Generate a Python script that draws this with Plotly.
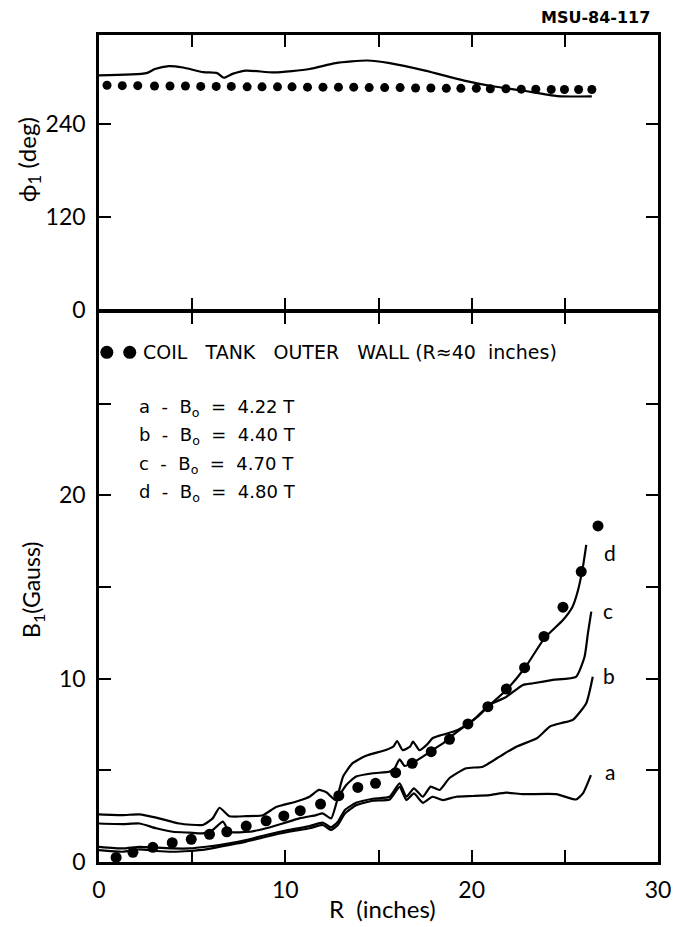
import plotly.graph_objects as go

# ---------------- data ----------------
# Top panel: phase phi_1 (deg) vs R (inches)
phi_line_x = [0, 2.55, 3.0, 3.74, 4.5, 5.6, 6.34, 6.7, 7.2, 7.9, 9.4, 11.3, 12.7, 14.4,
              15.6, 17.5, 19.6, 21.2, 22.7, 24.6, 26.45]
phi_line_y = [302.7, 305.7, 311, 314.8, 313, 307, 305.7, 299.7, 305, 309, 306.6, 311, 318.7,
              322, 318.7, 309, 296, 288.4, 283.2, 276, 275.5]

phi_dot_x = [0.43, 1.25, 2.08, 2.98, 3.81, 4.64, 5.46, 6.29, 7.1, 7.95, 8.75, 9.58, 10.36,
             11.19, 12.02, 12.85, 13.67, 14.5, 15.33, 16.16, 16.99, 17.81, 18.64, 19.42,
             20.25, 21.0, 21.84, 22.66, 23.44, 24.27, 24.98, 25.74, 26.45]
phi_dot_y = [290, 289.5, 289.5, 289, 289, 289, 288.5, 288.5, 288.5, 288, 288, 288, 288,
             287.5, 287.5, 287.5, 287.5, 287, 287, 287, 286.5, 286.5, 286, 286, 286,
             285.5, 285.5, 285, 285, 284.5, 284.5, 284.5, 284.5]

# Bottom panel: B_1 (Gauss) vs R (inches)
a_x = [0, 1.28, 2.17, 3.07, 3.96, 4.86, 5.75, 7.0, 7.9, 8.97, 10.2, 11.3, 12.0, 12.46, 12.82,
       13.2, 13.8, 14.7, 15.6, 16.13, 16.5, 16.9, 17.38, 17.9, 18.46, 19.17, 20.07, 20.96,
       21.85, 22.75, 24.54, 25.6, 25.97, 26.4]
a_y = [0.65, 0.56, 0.69, 0.6, 0.56, 0.6, 0.69, 0.93, 1.11, 1.38, 1.65, 1.84, 2.02, 1.75, 2.02,
       2.65, 3.1, 3.34, 3.41, 4.1, 3.38, 3.74, 3.23, 3.56, 3.38, 3.56, 3.6, 3.65,
       3.78, 3.7, 3.7, 3.41, 3.74, 4.74]

b_x = [0, 1.28, 2.17, 3.07, 3.96, 4.86, 5.75, 7.0, 7.9, 8.97, 10.2, 11.3, 12.0, 12.46, 12.82,
       13.2, 13.8, 14.7, 15.6, 16.13, 16.5, 16.9, 17.38, 17.8, 18.28, 18.8, 19.7, 20.6, 21.5,
       22.4, 23.5, 24.2, 24.9, 25.43, 26.15, 26.5]
b_y = [0.83, 0.74, 0.83, 0.78, 0.74, 0.74, 0.83, 1.02, 1.2, 1.47, 1.75, 1.96, 2.15, 1.89, 2.2,
       2.84, 3.23, 3.45, 3.56, 4.29, 3.56, 4.02, 3.56, 4.11, 3.93, 4.57, 5.11, 5.2, 5.75,
       6.29, 6.75, 7.39, 7.6, 7.75, 8.66, 10.1]

c_x = [0, 1.28, 2.17, 3.07, 4.3, 5.57, 6.1, 6.47, 7.0, 7.9, 8.8, 9.5, 10.6, 11.3, 11.8, 12.2,
       12.7, 13.1, 13.6, 14.3, 15.4, 15.8, 16.0, 16.3, 16.7, 16.85, 17.2, 17.6, 17.9, 18.3,
       19.0, 19.6, 20.1, 20.96, 21.85, 22.75, 23.3, 24.36, 25.6, 26.06, 26.24, 26.42]
c_y = [2.6, 2.56, 2.6, 2.42, 2.1, 2.02, 2.38, 2.96, 2.5, 2.5, 2.55, 3.0, 3.3, 3.56, 3.93, 3.8,
       3.38, 4.66, 5.38, 5.78, 6.11, 6.3, 6.6, 6.1, 6.3, 6.57, 6.1, 6.4, 6.75, 6.9,
       7.1, 7.4, 7.75, 8.57, 9.0, 9.66, 9.75, 9.93, 10.1, 11.2, 12.48, 13.66]

d_x = [0, 1.28, 2.17, 3.07, 3.96, 4.86, 5.57, 6.1, 6.65, 7.0, 8.1, 8.97, 9.86, 10.75, 11.65,
       12.0, 12.46, 12.82, 13.27, 13.8, 14.7, 15.6, 15.86, 16.13, 16.4, 16.85, 17.38, 17.9,
       18.46, 19.0, 19.8, 20.4, 20.87, 21.86, 22.9, 23.9, 24.9, 25.4, 25.7, 25.97, 26.15]
d_y = [2.1, 2.07, 2.1, 1.84, 1.65, 1.6, 1.56, 1.75, 2.2, 1.65, 1.65, 1.84, 2.1, 2.38, 2.56,
       2.65, 2.38, 3.47, 4.2, 4.66, 4.84, 4.93, 5.1, 5.6, 5.24, 5.42, 5.75, 6.11,
       6.47, 6.93, 7.53, 8.0, 8.47, 9.38, 10.65, 12.2, 13.2, 13.9, 14.8, 16.1, 17.3]

wall_x = [0.92, 1.82, 2.89, 3.93, 4.95, 5.93, 6.86, 7.9, 8.97, 9.92, 10.8, 11.89, 12.87, 13.89,
          14.84, 15.92, 16.81, 17.83, 18.81, 19.8, 20.87, 21.86, 22.84, 23.88, 24.9, 25.88, 26.78]
wall_y = [0.25, 0.53, 0.8, 1.05, 1.24, 1.51, 1.65, 1.96, 2.25, 2.51, 2.8, 3.16, 3.62, 4.07,
          4.29, 4.87, 5.38, 6.02, 6.69, 7.53, 8.47, 9.43, 10.6, 12.3, 13.9, 15.84, 18.33]

curve_labels = ["a", "b", "c", "d"]
curve_label_x = [27.05, 26.95, 26.95, 27.0]
curve_label_y = [4.93, 10.2, 13.7, 16.9]

legend_title = "COIL   TANK   OUTER   WALL (R≈40  inches)"
legend_lines = ["a  -  B<sub>o</sub>  =  4.22 T", "b  -  B<sub>o</sub>  =  4.40 T",
                "c  -  B<sub>o</sub>  =  4.70 T", "d  -  B<sub>o</sub>  =  4.80 T"]

x_ticks = [0, 5, 10, 15, 20, 25, 30]
x_ticktext = ["0", "", "10", "", "20", "", "30"]
b_ticks = [0, 5, 10, 15, 20, 25]
b_ticktext = ["0", "", "10", "", "20", ""]
phi_ticks = [0, 120, 240]
phi_ticktext = ["0", "120", "240"]

# ---------------- figure ----------------
FONT = "Lato, DejaVu Sans, sans-serif"
WIDE = "DejaVu Sans, sans-serif"
LW = 2.2
AXW = 2.5
H = 927 - 35 - 65
SPLIT = (862 - 312) / H

fig = go.Figure()

fig.add_trace(go.Scatter(x=phi_line_x, y=phi_line_y, mode="lines", xaxis="x2", yaxis="y2",
                         line=dict(color="black", width=LW, shape="spline", smoothing=0.6),
                         showlegend=False))
fig.add_trace(go.Scatter(x=phi_dot_x, y=phi_dot_y, mode="markers", xaxis="x2", yaxis="y2",
                         marker=dict(color="black", size=9), showlegend=False))

for cx, cy in [(a_x, a_y), (b_x, b_y), (c_x, c_y), (d_x, d_y)]:
    fig.add_trace(go.Scatter(x=cx, y=cy, mode="lines", xaxis="x", yaxis="y",
                             line=dict(color="black", width=LW, shape="spline", smoothing=0.5),
                             showlegend=False))

fig.add_trace(go.Scatter(x=wall_x, y=wall_y, mode="markers", xaxis="x", yaxis="y",
                         marker=dict(color="black", size=11), showlegend=False))

# legend sample dots
fig.add_trace(go.Scatter(x=[0.42, 1.65], y=[27.8, 27.8], mode="markers", xaxis="x", yaxis="y",
                         marker=dict(color="black", size=13), showlegend=False,
                         cliponaxis=False))

axis_common = dict(showline=True, linecolor="black", linewidth=AXW, mirror="ticks",
                   ticks="inside", ticklen=12, tickwidth=2, tickcolor="black",
                   showgrid=False, zeroline=False,
                   tickfont=dict(family=FONT, size=23, color="black"))

fig.update_layout(
    width=690, height=927,
    margin=dict(l=99, r=32, t=35, b=65),
    paper_bgcolor="white", plot_bgcolor="white",
    showlegend=False,
    xaxis=dict(axis_common, domain=[0, 1], range=[0, 30], anchor="y",
               tickvals=x_ticks, ticktext=x_ticktext, ticklabelstandoff=6),
    yaxis=dict(axis_common, domain=[0, SPLIT], range=[0, 30], anchor="x",
               tickvals=b_ticks, ticktext=b_ticktext, ticklabelstandoff=6),
    xaxis2=dict(axis_common, domain=[0, 1], range=[0, 30], anchor="y2", matches="x",
                tickvals=x_ticks, showticklabels=False),
    yaxis2=dict(axis_common, domain=[SPLIT + AXW / H, 1], range=[0, 355], anchor="x2",
                tickvals=phi_ticks, ticktext=phi_ticktext, ticklabelstandoff=6),
)

ann = []
# axis titles
ann.append(dict(text="ϕ<sub>1</sub> (deg)", xref="paper", yref="paper",
                x=-0.125, y=(862 - 160) / H, xanchor="center", yanchor="middle",
                textangle=-90, showarrow=False,
                font=dict(family=FONT, size=24, color="black")))
ann.append(dict(text="B<sub>1</sub>(Gauss)", xref="paper", yref="paper",
                x=-0.12, y=(862 - 590) / H, xanchor="center", yanchor="middle",
                textangle=-90, showarrow=False,
                font=dict(family=FONT, size=23, color="black")))
ann.append(dict(text="R  (inches)", xref="paper", yref="paper",
                x=(382 - 99) / 559, y=(862 - 908) / H, xanchor="center", yanchor="middle",
                showarrow=False, font=dict(family=FONT, size=24, color="black")))
ann.append(dict(text="<b>MSU-84-117</b>", xref="paper", yref="paper",
                x=(652 - 99) / 559, y=(862 - 18) / H, xanchor="right", yanchor="middle",
                showarrow=False, font=dict(family=WIDE, size=16, color="black")))
# legend
ann.append(dict(text=legend_title, xref="x", yref="y",
                x=(141 - 99.5) / 18.63, y=27.8, xanchor="left", yanchor="middle",
                showarrow=False, font=dict(family=WIDE, size=19, color="black")))
for i, t in enumerate(legend_lines):
    ann.append(dict(text=t, xref="x", yref="y",
                    x=(137 - 99.5) / 18.63, y=(862 - (408 + 28.5 * i)) / 18.33,
                    xanchor="left", yanchor="middle", showarrow=False,
                    font=dict(family=WIDE, size=18, color="black")))
for t, lx, ly in zip(curve_labels, curve_label_x, curve_label_y):
    ann.append(dict(text=t, xref="x", yref="y", x=lx, y=ly, xanchor="left",
                    yanchor="middle", showarrow=False,
                    font=dict(family=FONT, size=21, color="black")))

fig.update_layout(annotations=ann)

fig.write_html("out.html")
